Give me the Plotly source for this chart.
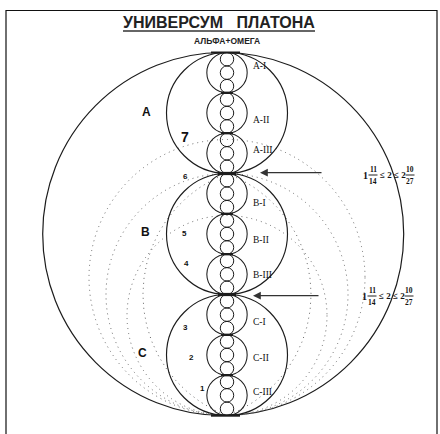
import numpy as np
import plotly.graph_objects as go

# ---------------- data ----------------
title_text = "УНИВЕРСУМ   ПЛАТОНА"
subtitle_text = "АЛЬФА+ОМЕГА"
spheres = ["A", "B", "C"]
sub_spheres = ["I", "II", "III"]
divisions = 3
zone_labels = ["7", "6", "5", "4", "3", "2", "1"]
bound_low = ["1", "11", "14"]      # 1 11/14
bound_mid = "≤ 2 ≤"
bound_high = ["2", "10", "27"]     # 2 10/27

# ---------------- geometry / layout ----------------
W, H = 440, 434
CX = 227.0
TOP, BOT = 52.5, 415.5
D = BOT - TOP
INK = "#1c1c1c"
DOT = "#666666"
SANS = "Liberation Sans, Arial, sans-serif"
SERIF = "Liberation Serif, Times New Roman, serif"

shapes = []
annotations = []
traces = []


def circle(cx, cy, r, width=1.1, color=INK, dash="solid"):
    shapes.append(dict(type="circle", xref="x", yref="y",
                       x0=cx - r, x1=cx + r, y0=cy - r, y1=cy + r,
                       line=dict(color=color, width=width, dash=dash)))


def hline(x0, x1, y, width=1.0, color=INK):
    shapes.append(dict(type="line", xref="x", yref="y", x0=x0, x1=x1, y0=y, y1=y,
                       line=dict(color=color, width=width)))


# frame
shapes.append(dict(type="rect", xref="x", yref="y", x0=6, x1=437, y0=10.5, y1=440,
                   line=dict(color="#111", width=1.2)))

# big sphere
shapes.append(dict(type="circle", xref="x", yref="y", x0=42.7, x1=403.7, y0=TOP, y1=BOT,
                   line=dict(color=INK, width=1.2)))

# dotted circles tangent at the bottom
for r in [100, 121, 138]:
    circle(CX, BOT - r, r, width=1.0, color=DOT, dash="1px,4px")


# dotted lens arcs through two points on the axis
def lens(y1, y2, w, side):
    h = (y2 - y1) / 2
    ym = (y1 + y2) / 2
    R = (h * h + w * w) / (2 * w)
    c = w - R
    t1 = np.arctan2(-h, -c)
    t2 = np.arctan2(h, -c)
    t = np.linspace(t1, t2, 120)
    x = c + R * np.cos(t)
    y = ym + R * np.sin(t)
    return CX + side * x, y


for (y1, y2, w) in [(TOP + D / 3, BOT, 84)]:
    for side in (-1, 1):
        xs, ys = lens(y1, y2, w, side)
        traces.append(go.Scatter(x=xs, y=ys, mode="lines", hoverinfo="skip",
                                 line=dict(color=DOT, width=1.0, dash="1px,4px")))

# medium, small, tiny spheres
d1 = D / divisions
d2 = d1 / divisions
d3 = d2 / divisions
for i in range(divisions):
    circle(CX, TOP + d1 * (i + 0.5), d1 / 2, width=1.15)
for j in range(divisions ** 2):
    circle(CX, TOP + d2 * (j + 0.5), d2 / 2, width=1.05)
for k in range(divisions ** 3):
    circle(CX, TOP + d3 * (k + 0.5), d3 / 2, width=1.0)

# thick marks at junctions
for j in range(1, divisions ** 2):
    y = TOP + d2 * j
    if j % divisions == 0:
        hline(CX - 9, CX + 9, y, width=3.2)
    else:
        hline(CX - 6, CX + 6, y, width=2.4)
hline(CX - 16, CX + 13, TOP, width=2.0)
hline(CX - 16, CX + 13, BOT, width=2.4)

# title
annotations.append(dict(x=219, y=22, text="<b>" + title_text + "</b>", showarrow=False,
                        xref="x", yref="y", font=dict(family=SANS, size=16, color="#222")))
hline(123, 315, 31, width=1.6, color="#333")
annotations.append(dict(x=227, y=41, text="<b>" + subtitle_text + "</b>", showarrow=False,
                        xref="x", yref="y", font=dict(family=SANS, size=8.5, color="#222")))

# sphere letters
for name, (x, y) in zip(spheres, [(146, 112), (145, 232), (142, 353)]):
    annotations.append(dict(x=x, y=y, text="<b>" + name + "</b>", showarrow=False,
                            xref="x", yref="y", font=dict(family=SANS, size=12, color="#111")))

# sub-sphere labels
offsets = [-7, 7, -3, 9, 6, 1, 7, 3, -3]
for j in range(divisions ** 2):
    name = spheres[j // divisions] + "-" + sub_spheres[j % divisions]
    annotations.append(dict(x=251, y=TOP + d2 * (j + 0.5) + offsets[j], text=name,
                            showarrow=False, xanchor="left", xref="x", yref="y",
                            font=dict(family=SERIF, size=9.5, color="#111")))

# zone numbers
zone_pos = [(185, 137), (185, 176), (184, 233), (186, 263), (185, 327), (191, 357), (202, 388)]
for lab, (x, y) in zip(zone_labels, zone_pos):
    annotations.append(dict(x=x, y=y, text="<b>" + lab + "</b>", showarrow=False,
                            xref="x", yref="y",
                            font=dict(family=SANS, size=14 if lab == "7" else 8, color="#111")))

# arrows
for (xh, xt, y) in [(260, 323, 172.7), (253, 320, 295.7)]:
    annotations.append(dict(x=xh, y=y, ax=xt, ay=y, xref="x", yref="y", axref="x", ayref="y",
                            text="", showarrow=True, arrowhead=2, arrowsize=1.2,
                            arrowwidth=1.3, arrowcolor="#333"))

# bound text  1 11/14 <= 2 <= 2 10/27
for (x0, yc) in [(365, 175), (364, 296)]:
    f = dict(family=SERIF, color="#111")
    annotations.append(dict(x=x0, y=yc, text="<b>" + bound_low[0] + "</b>", showarrow=False,
                            xref="x", yref="y", font=dict(size=10, **f)))
    annotations.append(dict(x=x0 + 8, y=yc - 5.5, text="<b>" + bound_low[1] + "</b>", showarrow=False,
                            xref="x", yref="y", font=dict(size=7.5, **f)))
    annotations.append(dict(x=x0 + 8, y=yc + 6, text="<b>" + bound_low[2] + "</b>", showarrow=False,
                            xref="x", yref="y", font=dict(size=7.5, **f)))
    hline(x0 + 3.5, x0 + 12.5, yc, width=1.0, color="#222")
    annotations.append(dict(x=x0 + 28, y=yc, text="<b>" + bound_mid + " " + bound_high[0] + "</b>",
                            showarrow=False, xref="x", yref="y", font=dict(size=9, **f)))
    annotations.append(dict(x=x0 + 45, y=yc - 5.5, text="<b>" + bound_high[1] + "</b>", showarrow=False,
                            xref="x", yref="y", font=dict(size=7.5, **f)))
    annotations.append(dict(x=x0 + 45, y=yc + 6, text="<b>" + bound_high[2] + "</b>", showarrow=False,
                            xref="x", yref="y", font=dict(size=7.5, **f)))
    hline(x0 + 40.5, x0 + 49.5, yc, width=1.0, color="#222")

fig = go.Figure(data=traces)
fig.update_layout(
    width=W, height=H, autosize=False,
    margin=dict(l=0, r=0, t=0, b=0),
    paper_bgcolor="white", plot_bgcolor="white",
    showlegend=False,
    shapes=shapes, annotations=annotations,
    xaxis=dict(range=[0, W], visible=False, fixedrange=True),
    yaxis=dict(range=[H, 0], visible=False, fixedrange=True),
)
fig.write_html("out.html", config={"displayModeBar": False},
               post_script="document.body.style.margin='0';document.body.style.overflow='hidden';")
